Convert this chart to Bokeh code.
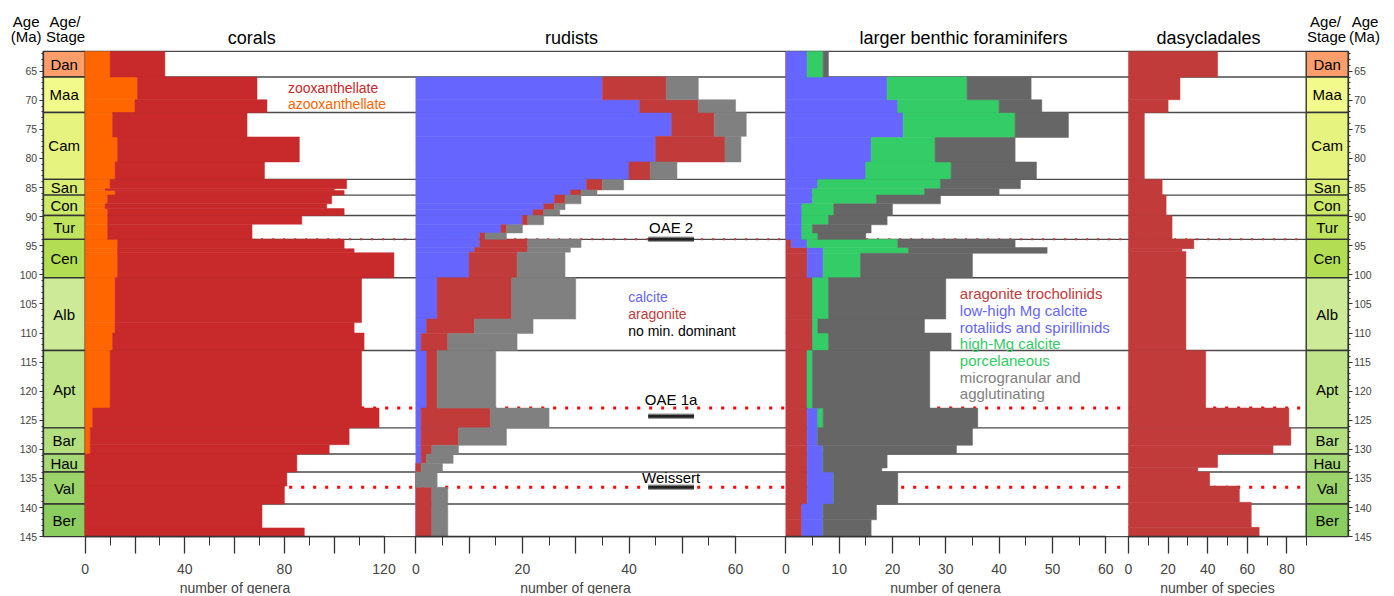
from bokeh.plotting import figure
from bokeh.models import Range1d, LinearAxis, FixedTicker, ColumnDataSource
from bokeh.embed import file_html
from bokeh.resources import INLINE
from bokeh.core.properties import value

FONT = "Liberation Sans"

# ---------------- data ----------------
STAGES = ["Dan", "Maa", "Cam", "San", "Con", "Tur", "Cen", "Alb", "Apt", "Bar", "Hau", "Val", "Ber"]
STAGE_TOP = [61.6, 66.0, 72.1, 83.6, 86.3, 89.8, 93.9, 100.5, 113.0, 126.3, 130.8, 133.9, 139.4]
STAGE_BASE = [66.0, 72.1, 83.6, 86.3, 89.8, 93.9, 100.5, 113.0, 126.3, 130.8, 133.9, 139.4, 145.0]
STAGE_COLORS = ["#FC9E6A", "#F2FA8C", "#E6F47F", "#D9EF74", "#CCE968", "#BFE35D", "#B3DE53",
                "#CCEA97", "#BFE48A", "#B3DF7F", "#A6D975", "#99D36A", "#8CCD60"]
AGE_TICKS = list(range(65, 146, 5))
AGE_MINOR = list(range(62, 146))

# corals (number of genera)
CORAL_TOP = [61.6, 66.0, 69.9, 72.1, 76.3, 80.6, 83.6, 85.2, 85.5, 86.3, 87.8, 88.6, 89.8, 91.3, 93.9,
             95.5, 96.2, 100.5, 108.2, 110.0, 113.0, 122.9, 126.3, 129.2, 130.8, 133.9, 136.3, 139.4, 143.5]
CORAL_BASE = [66.0, 69.9, 72.1, 76.3, 80.6, 83.6, 85.2, 85.5, 86.3, 87.8, 88.6, 89.8, 91.3, 93.9, 95.5,
              96.2, 100.5, 108.2, 110.0, 113.0, 122.9, 126.3, 129.2, 130.8, 133.9, 136.3, 139.4, 143.5, 145.0]
CORAL_AZOO = [10, 21, 20, 11, 13, 12, 10, 8, 12, 9, 8, 9, 9, 9, 13, 13, 13, 12, 12, 11, 10, 3, 2, 2, 0, 0, 0, 0, 0]
CORAL_ZOO = [22, 48, 53, 54, 73, 60, 95, 92, 92, 90, 89, 95, 78, 58, 91, 95, 111, 99, 96, 101, 101, 115,
             104, 96, 85, 81, 80, 71, 88]

# rudists (number of genera)
RUD_TOP = [66.0, 69.9, 72.1, 76.2, 80.6, 83.6, 85.4, 86.3, 87.8, 88.8, 89.8, 91.4, 92.8, 93.9, 95.3, 96.1,
           100.5, 107.6, 110.1, 113.0, 122.9, 126.3, 129.3, 130.8, 132.4, 133.9, 136.5]
RUD_BASE = [69.9, 72.1, 76.2, 80.6, 83.6, 85.4, 86.3, 87.8, 88.8, 89.8, 91.4, 92.8, 93.9, 95.3, 96.1, 100.5,
            107.6, 110.1, 113.0, 122.9, 126.3, 129.3, 130.8, 132.4, 133.9, 136.5, 145.0]
RUD_CALCITE = [35, 42, 48, 45, 40, 32, 29, 26, 24, 22, 20, 16, 12, 12, 11, 10, 4, 2, 1, 2, 1, 1, 1, 1, 0, 0, 0]
RUD_ARAGONITE = [12, 11, 8, 13, 4, 3, 2, 2, 2, 2, 1, 1, 1, 9, 10, 9, 14, 9, 5, 2, 13, 7, 2, 1, 1, 0, 3]
RUD_NODOM = [6, 7, 6, 3, 5, 4, 3, 3, 2, 3, 3, 3, 4, 10, 8, 9, 12, 11, 13, 11, 11, 9, 5, 5, 4, 4, 3]

# larger benthic foraminifers (number of genera)
LBF_TOP = [61.6, 66.0, 69.9, 72.1, 76.4, 80.6, 83.6, 85.2, 86.3, 87.8, 89.8, 91.4, 92.8, 93.9, 95.3, 96.3,
           100.5, 107.6, 110.0, 113.0, 122.9, 126.3, 129.3, 130.8, 133.2, 133.9, 139.4, 142.1]
LBF_BASE = [66.0, 69.9, 72.1, 76.4, 80.6, 83.6, 85.2, 86.3, 87.8, 89.8, 91.4, 92.8, 93.9, 95.3, 96.3, 100.5,
            107.6, 110.0, 113.0, 122.9, 126.3, 129.3, 130.8, 133.2, 133.9, 139.4, 142.1, 145.0]
LBF_TROCH = [0, 0, 0, 0, 0, 0, 0, 0, 0, 0, 0, 0, 0, 1, 4, 4, 5, 5, 5, 4, 4, 4, 4, 4, 4, 4, 3, 3]
LBF_ROTAL = [4, 19, 21, 22, 16, 15, 6, 5, 5, 3, 3, 3, 3, 3, 3, 3, 0, 0, 0, 0, 2, 2, 3, 3, 3, 5, 4, 4]
LBF_PORC = [3, 15, 19, 21, 12, 16, 23, 21, 12, 6, 5, 2, 3, 17, 16, 7, 3, 1, 3, 1, 1, 0, 0, 0, 0, 0, 0, 0]
LBF_MICRO = [1, 12, 8, 10, 15, 16, 15, 14, 12, 11, 11, 11, 9, 22, 26, 21, 22, 20, 23, 22, 29, 29, 25, 12,
             11, 12, 10, 9]

# dasycladales (number of species)
DASY_TOP = [61.6, 66.0, 69.9, 72.1, 83.6, 86.3, 89.8, 93.9, 95.5, 96.0, 113.0, 122.9, 126.3, 129.3, 130.8,
            133.1, 133.9, 136.3, 139.1, 143.4]
DASY_BASE = [66.0, 69.9, 72.1, 83.6, 86.3, 89.8, 93.9, 95.5, 96.0, 113.0, 122.9, 126.3, 129.3, 130.8, 133.1,
             133.9, 136.3, 139.1, 143.4, 145.0]
DASY_SPECIES = [45, 26, 20, 8, 17, 19, 22, 33, 27, 29, 39, 81, 82, 73, 45, 35, 41, 56, 62, 66]

# events
EVENT_NAMES = ["OAE 2", "OAE 1a", "Weissert"]
EVENT_AGES = [93.9, 122.9, 136.5]
EVENT_BAR_AGES = [93.9, 124.3, 136.5]
EVENT_LABEL_AGES = [91.8, 121.4, 134.8]
EVENT_BAR_SPAN = (43.6, 52.2)  # drawn in the rudist panel, number of genera units

# ---------------- styles / layout ----------------
CORAL_RED = "#C8292B"
ORANGE = "#FF6600"
BLUE = "#6666FF"
RED = "#C23B3B"
GRAY_R = "#808080"
GRAY_L = "#666666"
GREEN = "#33CC66"
LINE = "#4a4a4a"

W, H = 1390, 594
PX0, PX1 = 0.0, float(W)        # image x covered by the canvas
PY0, PY1 = 0.0, float(H)        # image y covered by the canvas
Y65, PX_PER_MA = 70.7, 5.818


def age_at(ypix):
    return 65 + (ypix - Y65) / PX_PER_MA


LEFT_AXIS_X, LEFT_COL_R = 42.7, 84.7
RIGHT_COL_L, RIGHT_AXIS_X = 1305.7, 1347.7
PANEL_GEOM = {"corals": (84.7, 2.49), "rudists": (415.3, 5.33),
              "lbf": (785.3, 5.333), "dasy": (1128.0, 1.98)}

p = figure(width=W, height=H, output_backend="svg", toolbar_location=None,
           x_range=Range1d(PX0, PX1), y_range=Range1d(age_at(PY1), age_at(PY0)),
           x_axis_type=None, y_axis_type=None, min_border=0)
p.outline_line_color = None
p.background_fill_color = "white"
p.border_fill_color = "white"

for name, (x0, k) in PANEL_GEOM.items():
    p.extra_x_ranges[name] = Range1d(start=(PX0 - x0) / k, end=(PX1 - x0) / k)

# stage columns
for xl, xr in [(LEFT_AXIS_X, LEFT_COL_R), (RIGHT_COL_L, RIGHT_AXIS_X)]:
    p.quad(left=xl, right=xr, top=STAGE_TOP, bottom=STAGE_BASE, fill_color=STAGE_COLORS,
           line_color="#333333", line_width=1.4)
    p.text(x=[(xl + xr) / 2] * len(STAGES),
           y=[(a + b) / 2 for a, b in zip(STAGE_TOP, STAGE_BASE)], text=STAGES,
           text_font=value(FONT), text_font_size="15px", text_align="center",
           text_baseline="middle", text_color="black")

# stage boundary lines across the panels
bounds_y = STAGE_TOP + [STAGE_BASE[-1]]
p.segment(x0=LEFT_COL_R, x1=RIGHT_COL_L, y0=bounds_y, y1=bounds_y, line_color=LINE, line_width=1.4)

# event lines
p.segment(x0=LEFT_COL_R, x1=RIGHT_COL_L, y0=EVENT_AGES[0], y1=EVENT_AGES[0],
          line_color="#C83232", line_width=2, line_dash="2 9")
for a in EVENT_AGES[1:]:
    p.segment(x0=LEFT_COL_R, x1=RIGHT_COL_L, y0=a, y1=a,
              line_color="#FF0000", line_width=3, line_dash="3 9")


def stack(name, top, base, series, colors):
    left = [0] * len(top)
    for vals, col in zip(series, colors):
        right = [l + v for l, v in zip(left, vals)]
        src = ColumnDataSource(dict(top=top, bottom=base, left=left, right=right))
        p.quad(left="left", right="right", top="top", bottom="bottom", source=src,
               x_range_name=name, fill_color=col, line_color=col, line_width=0.5)
        left = right


stack("corals", CORAL_TOP, CORAL_BASE, [CORAL_AZOO, CORAL_ZOO], [ORANGE, CORAL_RED])
stack("rudists", RUD_TOP, RUD_BASE, [RUD_CALCITE, RUD_ARAGONITE, RUD_NODOM], [BLUE, RED, GRAY_R])
stack("lbf", LBF_TOP, LBF_BASE, [LBF_TROCH, LBF_ROTAL, LBF_PORC, LBF_MICRO], [RED, BLUE, GREEN, GRAY_L])
stack("dasy", DASY_TOP, DASY_BASE, [DASY_SPECIES], [RED])

# event bars and labels (rudist panel)
p.segment(x0=EVENT_BAR_SPAN[0], x1=EVENT_BAR_SPAN[1], y0=EVENT_BAR_AGES, y1=EVENT_BAR_AGES,
          x_range_name="rudists", line_color="#9a9a9a", line_width=5.5)
p.segment(x0=EVENT_BAR_SPAN[0], x1=EVENT_BAR_SPAN[1], y0=EVENT_BAR_AGES, y1=EVENT_BAR_AGES,
          x_range_name="rudists", line_color="#222222", line_width=3)
p.text(x=[(EVENT_BAR_SPAN[0] + EVENT_BAR_SPAN[1]) / 2] * 3, y=EVENT_LABEL_AGES, text=EVENT_NAMES,
       x_range_name="rudists", text_font=value(FONT), text_font_size="15px",
       text_align="center", text_baseline="middle", text_color="black")

# titles and headers
p.text(x=[251.3, 571, 963, 1208], y=[age_at(37.5)] * 4,
       text=["corals", "rudists", "larger benthic foraminifers", "dasycladales"],
       text_font=value(FONT), text_font_size="18px", text_align="center", text_baseline="middle")
p.text(x=[25.7, 25.7, 64.5, 65.0, 1325.0, 1326.0, 1364.5, 1364.0],
       y=[age_at(20.7), age_at(36), age_at(20.7), age_at(36)] * 2,
       text=["Age", "(Ma)", "Age/", "Stage", "Age/", "Stage", "Age", "(Ma)"],
       text_font=value(FONT), text_font_size="15px", text_align="center", text_baseline="middle")

# legends
p.text(x=[287.5, 287.5], y=[age_at(87), age_at(103.7)], text=["zooxanthellate", "azooxanthellate"],
       text_color=[CORAL_RED, ORANGE], text_font=value(FONT), text_font_size="14px",
       text_align="left", text_baseline="middle")
p.text(x=[627.7] * 3, y=[age_at(296.7), age_at(313.3), age_at(330)],
       text=["calcite", "aragonite", "no min. dominant"], text_color=[BLUE, RED, "black"],
       text_font=value(FONT), text_font_size="14px", text_align="left", text_baseline="middle")
lbf_leg = ["aragonite trocholinids", "low-high Mg calcite", "rotaliids and spirillinids",
           "high-Mg calcite", "porcelaneous", "microgranular and", "agglutinating"]
p.text(x=[959.3] * 7, y=[age_at(293.3 + 16.67 * i) for i in range(7)], text=lbf_leg,
       text_color=[RED, BLUE, BLUE, GREEN, GREEN, GRAY_R, GRAY_R],
       text_font=value(FONT), text_font_size="15px", text_align="left", text_baseline="middle")

# age axes
for loc, side in [(LEFT_AXIS_X, "left"), (RIGHT_AXIS_X, "right")]:
    ax = LinearAxis(fixed_location=loc, bounds=(STAGE_TOP[0], STAGE_BASE[-1]),
                    ticker=FixedTicker(ticks=AGE_TICKS, minor_ticks=AGE_MINOR),
                    major_label_text_font=FONT, major_label_text_font_size="10.5px",
                    major_label_standoff=2, major_tick_in=0, major_tick_out=4,
                    minor_tick_in=0, minor_tick_out=2, axis_line_color="#333333",
                    axis_line_width=1.3, major_tick_line_color="#333333",
                    minor_tick_line_color="#333333")
    p.add_layout(ax, side)


def bottom_axis(name, bnds, ticks, minor, label, hide=()):
    ax = LinearAxis(x_range_name=name, fixed_location=STAGE_BASE[-1], bounds=bnds,
                    ticker=FixedTicker(ticks=ticks, minor_ticks=minor),
                    axis_label=label, axis_label_text_font=FONT, axis_label_text_font_size="14px",
                    axis_label_text_font_style="normal", axis_label_standoff=3,
                    major_label_text_font=FONT, major_label_text_font_size="14px",
                    major_label_standoff=10, major_tick_in=0, major_tick_out=17,
                    minor_tick_in=0, minor_tick_out=9, axis_line_color="#333333",
                    axis_line_width=1.5, major_tick_line_color="#333333",
                    minor_tick_line_color="#333333", major_tick_line_width=1.3,
                    major_label_overrides={t: "" for t in hide})
    p.add_layout(ax, "below")


bottom_axis("corals", (0, 120), list(range(0, 121, 20)), list(range(0, 121, 10)),
            "number of genera", hide=(20, 60, 100))
bottom_axis("rudists", (0, 60), list(range(0, 61, 10)), list(range(0, 61, 5)),
            "number of genera", hide=(10, 30, 50))
bottom_axis("lbf", (0, 60), list(range(0, 61, 10)), list(range(0, 61, 5)), "number of genera")
bottom_axis("dasy", (0, 90), list(range(0, 81, 20)), list(range(0, 91, 10)), "number of species")

open("out.html", "w").write(file_html(p, INLINE))
